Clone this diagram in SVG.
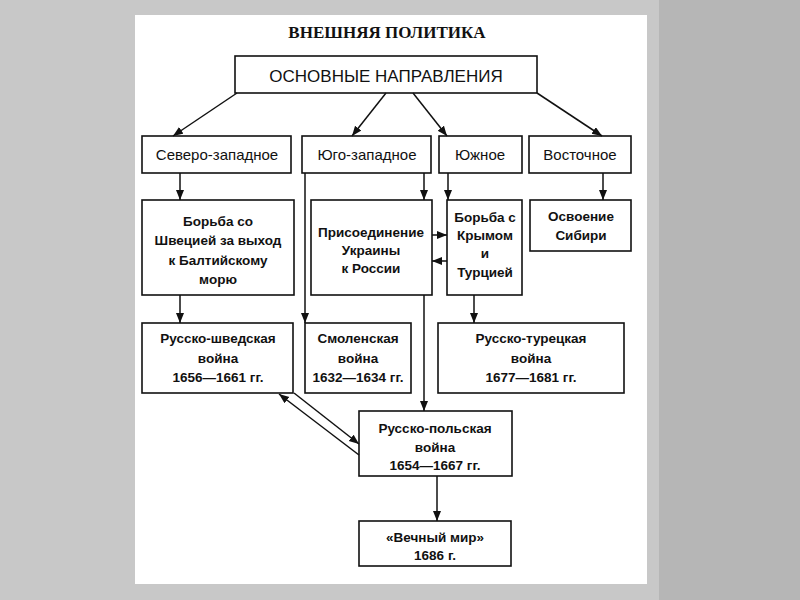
<svg xmlns="http://www.w3.org/2000/svg" width="800" height="600" viewBox="0 0 800 600">
<defs>
<marker id="ah" markerUnits="userSpaceOnUse" markerWidth="11" markerHeight="9" refX="10" refY="4" orient="auto">
<path d="M0,0 L10,4 L0,8 z" fill="#111"/>
</marker>
<style>
.box{fill:#fff;stroke:#111;stroke-width:1.6}
.c{stroke:#111;stroke-width:1.5;fill:none;marker-end:url(#ah)}
.t{font-family:"Liberation Sans",Arial,sans-serif;font-size:15px;fill:#111;text-anchor:middle}
.b{font-family:"Liberation Sans",Arial,sans-serif;font-size:13.5px;font-weight:bold;fill:#111;text-anchor:middle}
</style>
</defs>
<rect x="0" y="0" width="800" height="600" fill="#c8c8c8"/>
<rect x="659" y="0" width="141" height="600" fill="#b6b6b6"/>
<rect x="135" y="15" width="512" height="569" fill="#fff"/>
<text x="387" y="38" font-family="'Liberation Serif',serif" font-weight="bold" font-size="17" text-anchor="middle" fill="#111">ВНЕШНЯЯ ПОЛИТИКА</text>
<g id="n-main"><rect class="box" x="235" y="56" width="302" height="37"/><text class="t" x="386" y="82" style="font-size:17px">ОСНОВНЫЕ НАПРАВЛЕНИЯ</text></g>
<g id="n-nw"><rect class="box" x="142" y="136" width="149" height="37"/><text class="t" x="217" y="160">Северо-западное</text></g>
<g id="n-sw"><rect class="box" x="302" y="136" width="129" height="37"/><text class="t" x="367" y="160">Юго-западное</text></g>
<g id="n-s"><rect class="box" x="439" y="136" width="83" height="37"/><text class="t" x="480" y="160">Южное</text></g>
<g id="n-e"><rect class="box" x="529" y="136" width="102" height="37"/><text class="t" x="580" y="160">Восточное</text></g>
<g id="n-sweden"><rect class="box" x="142" y="200" width="152" height="95"/><text class="b" x="218" y="226">Борьба со</text><text class="b" x="218" y="245">Швецией за выход</text><text class="b" x="218" y="265">к Балтийскому</text><text class="b" x="218" y="284">морю</text></g>
<g id="n-ukraine"><rect class="box" x="311" y="200" width="121" height="95"/><text class="b" x="371" y="237">Присоединение</text><text class="b" x="371" y="255">Украины</text><text class="b" x="371" y="273">к России</text></g>
<g id="n-crimea"><rect class="box" x="447" y="200" width="75" height="95"/><text class="b" x="485" y="222">Борьба с</text><text class="b" x="485" y="240">Крымом</text><text class="b" x="485" y="258">и</text><text class="b" x="485" y="277">Турцией</text></g>
<g id="n-siberia"><rect class="box" x="530" y="200" width="101" height="51"/><text class="b" x="581" y="221">Освоение</text><text class="b" x="581" y="240">Сибири</text></g>
<g id="n-rsw"><rect class="box" x="142" y="323" width="151" height="70"/><text class="b" x="218" y="343">Русско-шведская</text><text class="b" x="218" y="363">война</text><text class="b" x="218" y="382">1656—1661 гг.</text></g>
<g id="n-smol"><rect class="box" x="305" y="323" width="106" height="70"/><text class="b" x="358" y="343">Смоленская</text><text class="b" x="358" y="363">война</text><text class="b" x="358" y="382">1632—1634 гг.</text></g>
<g id="n-rtur"><rect class="box" x="438" y="323" width="186" height="70"/><text class="b" x="531" y="343">Русско-турецкая</text><text class="b" x="531" y="363">война</text><text class="b" x="531" y="382">1677—1681 гг.</text></g>
<g id="n-rpol"><rect class="box" x="359" y="411" width="153" height="65"/><text class="b" x="435" y="433">Русско-польская</text><text class="b" x="435" y="452">война</text><text class="b" x="435" y="470">1654—1667 гг.</text></g>
<g id="n-peace"><rect class="box" x="359" y="521" width="152" height="45"/><text class="b" x="435" y="542">«Вечный мир»</text><text class="b" x="435" y="560">1686 г.</text></g>
<g id="connectors">
<line class="c" x1="237" y1="93" x2="173" y2="136"/>
<line class="c" x1="386" y1="93" x2="352" y2="136"/>
<line class="c" x1="413" y1="93" x2="447" y2="136"/>
<line class="c" x1="537" y1="93" x2="602" y2="136"/>
<line class="c" x1="180" y1="173" x2="180" y2="200"/>
<line class="c" x1="305" y1="173" x2="305" y2="323"/>
<line class="c" x1="424" y1="173" x2="424" y2="200"/>
<line class="c" x1="448" y1="173" x2="448" y2="200"/>
<line class="c" x1="603" y1="173" x2="603" y2="200"/>
<line class="c" x1="180" y1="295" x2="180" y2="323"/>
<line class="c" x1="424" y1="295" x2="424" y2="411"/>
<line class="c" x1="474" y1="295" x2="474" y2="323"/>
<line class="c" x1="432" y1="235" x2="447" y2="235"/>
<line class="c" x1="447" y1="261" x2="432" y2="261"/>
<line class="c" x1="294" y1="393" x2="359" y2="444"/>
<line class="c" x1="359" y1="455" x2="279" y2="394"/>
<line class="c" x1="437" y1="476" x2="437" y2="521"/>
</g>
</svg>
